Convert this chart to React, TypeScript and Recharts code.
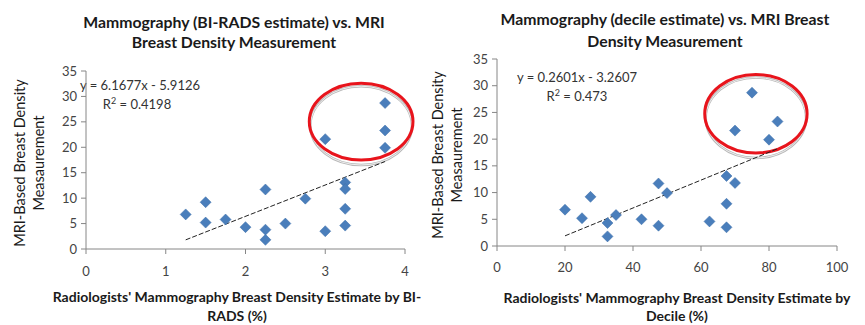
import React from 'react';
import { ScatterChart, Scatter, XAxis, YAxis, ReferenceLine, ReferenceArea, Customized } from 'recharts';

// MRI-based density for each subject, with the two radiologist estimates
const mriDensity = [6.8, 9.2, 5.2, 5.8, 4.3, 11.7, 3.8, 1.8, 5.0, 9.9, 21.6, 3.5, 13.1, 11.8, 7.9, 4.6, 28.7, 23.3, 19.9];
const biradsEstimate = [1.25, 1.5, 1.5, 1.75, 2, 2.25, 2.25, 2.25, 2.5, 2.75, 3, 3, 3.25, 3.25, 3.25, 3.25, 3.75, 3.75, 3.75];
const decileEstimate = [20, 27.5, 25, 35, 32.5, 47.5, 47.5, 32.5, 42.5, 50, 70, 67.5, 67.5, 70, 67.5, 62.5, 75, 82.5, 80];

const yTicks = [0, 5, 10, 15, 20, 25, 30, 35];
const biradsTicks = [0, 1, 2, 3, 4];
const decileTicks = [0, 20, 40, 60, 80, 100];

// linear trendline end points (from the fitted equations)
const biradsTrend = [{ x: 1.25, y: 1.8 }, { x: 3.75, y: 17.2 }];
const decileTrend = [{ x: 20, y: 1.9 }, { x: 82.5, y: 18.2 }];

// circled outliers region
const biradsCircle = { x1: 2.8, x2: 4.1, y1: 17.5, y2: 32.6 };
const decileCircle = { x1: 61.1, x2: 91.2, y1: 17.4, y2: 32.1 };

const biradsData = biradsEstimate.map((x, i) => ({ x, y: mriDensity[i] }));
const decileData = decileEstimate.map((x, i) => ({ x, y: mriDensity[i] }));

const FONT = 'Lato, "Open Sans", sans-serif';
const BLUE = '#4A7EBB';
const AXIS = '#868686';
const tickStyle = { fontSize: 13, fill: '#444', fontFamily: FONT };

const Diamond = (props: any) => {
  const { cx, cy } = props;
  if (cx == null || cy == null) return <g />;
  const r = 5.5;
  return <path d={`M${cx},${cy - r}L${cx + r},${cy}L${cx},${cy + r}L${cx - r},${cy}Z`} fill={BLUE} stroke="#3d6ea8" strokeWidth={0.5} />;
};

const Oval = (props: any) => {
  const { x, y, width, height } = props;
  const cx = x + width / 2;
  const cy = y + height / 2;
  return (
    <g>
      <ellipse cx={cx} cy={cy + 4} rx={width / 2 - 1} ry={height / 2 + 1} fill="none" stroke="#b8b8b8" strokeWidth={2.5} />
      <ellipse cx={cx} cy={cy + 4} rx={width / 2 - 1} ry={height / 2 + 1} fill="none" stroke="#eee" strokeWidth={1} />
      <ellipse cx={cx} cy={cy} rx={width / 2} ry={height / 2} fill="none" stroke="#e8141c" strokeWidth={3} />
    </g>
  );
};

const R2 = ({ x, y, value }: { x: number; y: number; value: string }) => (
  <text x={x} y={y} textAnchor="middle" fontSize={13} fill="#333" fontFamily={FONT}>
    R<tspan fontSize={9} dy={-5}>2</tspan><tspan dy={5}> = {value}</tspan>
  </text>
);

const LeftText = () => (
  <g fontFamily={FONT}>
    <text x={234} y={28} textAnchor="middle" fontSize={15.8} fontWeight="bold" fill="#1a1a1a">Mammography (BI-RADS estimate) vs. MRI</text>
    <text x={234} y={48} textAnchor="middle" fontSize={15.8} fontWeight="bold" fill="#1a1a1a">Breast Density Measurement</text>
    <text x={237} y={302} textAnchor="middle" fontSize={14} fontWeight="bold" fill="#1a1a1a">Radiologists' Mammography Breast Density Estimate by BI-</text>
    <text x={237} y={321} textAnchor="middle" fontSize={14} fontWeight="bold" fill="#1a1a1a">RADS (%)</text>
    <text x={25} y={163} textAnchor="middle" fontSize={14.5} fill="#1a1a1a" transform="rotate(-90 25 163)">MRI-Based Breast Density</text>
    <text x={44} y={163} textAnchor="middle" fontSize={14.5} fill="#1a1a1a" transform="rotate(-90 44 163)">Measaurement</text>
    <text x={140} y={90} textAnchor="middle" fontSize={13} fill="#333">y = 6.1677x - 5.9126</text>
    <R2 x={137} y={109} value="0.4198" />
  </g>
);

const RightText = () => (
  <g fontFamily={FONT}>
    <text x={235} y={25} textAnchor="middle" fontSize={15.8} fontWeight="bold" fill="#1a1a1a">Mammography (decile estimate) vs. MRI Breast</text>
    <text x={235} y={47} textAnchor="middle" fontSize={15.8} fontWeight="bold" fill="#1a1a1a">Density Measurement</text>
    <text x={247} y={303} textAnchor="middle" fontSize={14} fontWeight="bold" fill="#1a1a1a">Radiologists' Mammography Breast Density Estimate by</text>
    <text x={247} y={321} textAnchor="middle" fontSize={14} fontWeight="bold" fill="#1a1a1a">Decile (%)</text>
    <text x={13} y={155} textAnchor="middle" fontSize={14.5} fill="#1a1a1a" transform="rotate(-90 13 155)">MRI-Based Breast Density</text>
    <text x={32} y={155} textAnchor="middle" fontSize={14.5} fill="#1a1a1a" transform="rotate(-90 32 155)">Measaurement</text>
    <text x={147} y={82} textAnchor="middle" fontSize={13} fill="#333">y = 0.2601x - 3.2607</text>
    <R2 x={147} y={101} value="0.473" />
  </g>
);

export default function App() {
  return (
    <div style={{ position: 'absolute', left: 0, top: 0, width: 865, height: 325, background: '#fff' }}>
      <div style={{ position: 'absolute', left: 0, top: 0 }}>
        <ScatterChart width={430} height={325} margin={{ top: 71, right: 25, bottom: 46, left: 56 }}>
          <XAxis type="number" dataKey="x" domain={[0, 4]} ticks={biradsTicks} stroke={AXIS} tick={tickStyle} tickSize={5} tickMargin={13} height={30} />
          <YAxis type="number" dataKey="y" domain={[0, 35]} ticks={yTicks} stroke={AXIS} tick={tickStyle} tickSize={5} tickMargin={4} width={30} />
          <ReferenceLine segment={biradsTrend} stroke="#222" strokeDasharray="5 2" strokeWidth={1} />
          <Scatter data={biradsData} shape={<Diamond />} isAnimationActive={false} />
          <ReferenceArea {...biradsCircle} shape={<Oval />} ifOverflow="visible" />
          <Customized component={LeftText} />
        </ScatterChart>
      </div>
      <div style={{ position: 'absolute', left: 430, top: 0 }}>
        <ScatterChart width={435} height={325} margin={{ top: 59, right: 28, bottom: 49, left: 37 }}>
          <XAxis type="number" dataKey="x" domain={[0, 100]} ticks={decileTicks} stroke={AXIS} tick={tickStyle} tickSize={5} tickMargin={12} height={30} />
          <YAxis type="number" dataKey="y" domain={[0, 35]} ticks={yTicks} stroke={AXIS} tick={tickStyle} tickSize={5} tickMargin={4} width={30} />
          <ReferenceLine segment={decileTrend} stroke="#222" strokeDasharray="5 2" strokeWidth={1} />
          <Scatter data={decileData} shape={<Diamond />} isAnimationActive={false} />
          <ReferenceArea {...decileCircle} shape={<Oval />} ifOverflow="visible" />
          <Customized component={RightText} />
        </ScatterChart>
      </div>
    </div>
  );
}
